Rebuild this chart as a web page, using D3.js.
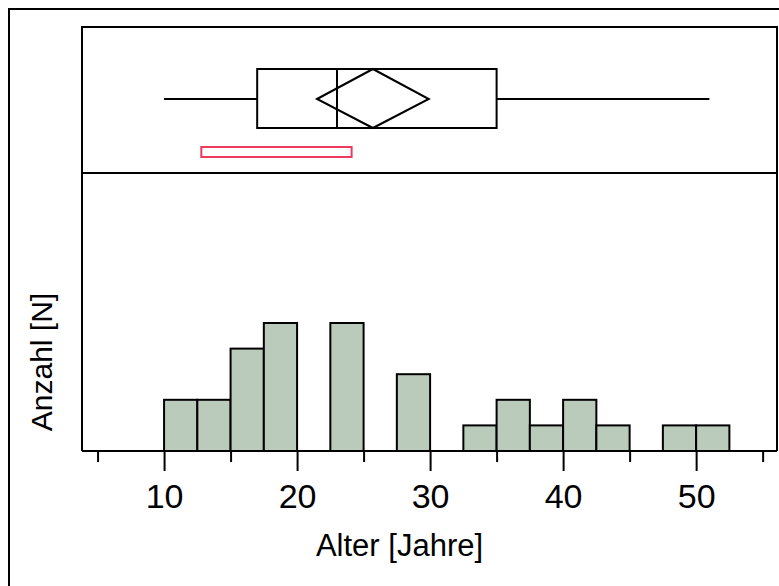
<!DOCTYPE html>
<html>
<head>
<meta charset="utf-8">
<script src="https://cdn.jsdelivr.net/npm/d3@7"></script>
<style>
  body { margin: 0; background: #fff; }
  svg { display: block; font-family: Arial, "Liberation Sans", sans-serif; }
</style>
</head>
<body>
<svg id="chart" width="779" height="586"></svg>
<script>
// histogram bins (left edge, width 2.5) and counts
var binStart = [10, 12.5, 15, 17.5, 20, 22.5, 25, 27.5, 30, 32.5, 35, 37.5, 40, 42.5, 45, 47.5, 50];
var counts   = [2, 2, 4, 5, 0, 5, 0, 3, 0, 1, 2, 1, 2, 1, 0, 1, 1];
var binWidth = 2.5;

// box plot summary
var whisker = [10, 51];
var quartiles = [17, 23, 35];      // q1, median, q3
var meanDiamond = [21.5, 25.7, 29.9]; // ci low, mean, ci high
var shortestHalf = [12.8, 24.1];

var majorTicks = [10, 20, 30, 40, 50];
var minorTicks = [5, 15, 25, 35, 45, 55];

var svg = d3.select("#chart");
var plotLeft = 82, plotRight = 777, plotTop = 27, divider = 173, base = 451;
var boxTop = 69, boxBottom = 128, boxMid = 99;

var x = d3.scaleLinear().domain([3.83, 56.08]).range([plotLeft, plotRight]);
var y = d3.scaleLinear().domain([0, 10.86]).range([base, divider]);

// outer frame
svg.append("rect")
  .attr("x", 9).attr("y", 9)
  .attr("width", 800).attr("height", 600)
  .attr("fill", "#fff").attr("stroke", "#000").attr("stroke-width", 2);

// box plot panel
svg.append("rect")
  .attr("x", plotLeft).attr("y", plotTop)
  .attr("width", plotRight - plotLeft).attr("height", divider - plotTop)
  .attr("fill", "none").attr("stroke", "#000").attr("stroke-width", 2);

var box = svg.append("g").attr("stroke", "#000").attr("stroke-width", 2).attr("fill", "none");
box.append("line")
  .attr("x1", x(whisker[0])).attr("x2", x(quartiles[0]))
  .attr("y1", boxMid).attr("y2", boxMid);
box.append("line")
  .attr("x1", x(quartiles[2])).attr("x2", x(whisker[1]))
  .attr("y1", boxMid).attr("y2", boxMid);
box.append("rect")
  .attr("x", x(quartiles[0])).attr("y", boxTop)
  .attr("width", x(quartiles[2]) - x(quartiles[0]))
  .attr("height", boxBottom - boxTop);
box.append("line")
  .attr("x1", x(quartiles[1])).attr("x2", x(quartiles[1]))
  .attr("y1", boxTop).attr("y2", boxBottom);
box.append("path")
  .attr("d", "M" + x(meanDiamond[0]) + "," + boxMid +
    "L" + x(meanDiamond[1]) + "," + boxTop +
    "L" + x(meanDiamond[2]) + "," + boxMid +
    "L" + x(meanDiamond[1]) + "," + boxBottom + "Z");

svg.append("rect")
  .attr("x", x(shortestHalf[0])).attr("y", 147)
  .attr("width", x(shortestHalf[1]) - x(shortestHalf[0]))
  .attr("height", 10)
  .attr("fill", "#fff").attr("stroke", "#ee3a5c").attr("stroke-width", 2);

// histogram panel border
svg.append("path")
  .attr("d", "M" + plotLeft + "," + base + "V" + divider + "M" + plotRight + "," + divider + "V" + base)
  .attr("stroke", "#000").attr("stroke-width", 2).attr("fill", "none");

svg.append("g")
  .selectAll("rect")
  .data(binStart.map(function (d, i) { return { x0: d, n: counts[i] }; })
    .filter(function (d) { return d.n > 0; }))
  .enter().append("rect")
  .attr("x", function (d) { return x(d.x0); })
  .attr("width", function (d) { return x(d.x0 + binWidth) - x(d.x0); })
  .attr("y", function (d) { return y(d.n); })
  .attr("height", function (d) { return base - y(d.n); })
  .attr("fill", "#bbcbbb")
  .attr("stroke", "#000")
  .attr("stroke-width", 2);

// x axis
var axis = svg.append("g")
  .attr("transform", "translate(0," + base + ")")
  .call(d3.axisBottom(x).tickValues(majorTicks).tickSize(20).tickSizeOuter(0));
axis.select(".domain").remove();
axis.selectAll(".tick line").attr("stroke", "#000").attr("stroke-width", 2);
axis.selectAll(".tick text")
  .attr("y", 57).attr("dy", 0)
  .attr("fill", "#000")
  .attr("font-size", 34)
  .attr("font-family", "Arial, 'Liberation Sans', sans-serif");

var minor = svg.append("g")
  .attr("transform", "translate(0," + base + ")")
  .call(d3.axisBottom(x).tickValues(minorTicks).tickSize(11).tickFormat(""));
minor.select(".domain").remove();
minor.selectAll(".tick line").attr("stroke", "#000").attr("stroke-width", 2);

svg.append("line")
  .attr("x1", plotLeft).attr("x2", plotRight)
  .attr("y1", base).attr("y2", base)
  .attr("stroke", "#000").attr("stroke-width", 2);

// axis titles
svg.append("text")
  .attr("x", (plotLeft + plotRight) / 2 - 30).attr("y", 556)
  .attr("text-anchor", "middle")
  .attr("font-size", 31)
  .text("Alter [Jahre]");

svg.append("text")
  .attr("transform", "translate(52,362) rotate(-90)")
  .attr("text-anchor", "middle")
  .attr("font-size", 30)
  .text("Anzahl [N]");
</script>
</body>
</html>
